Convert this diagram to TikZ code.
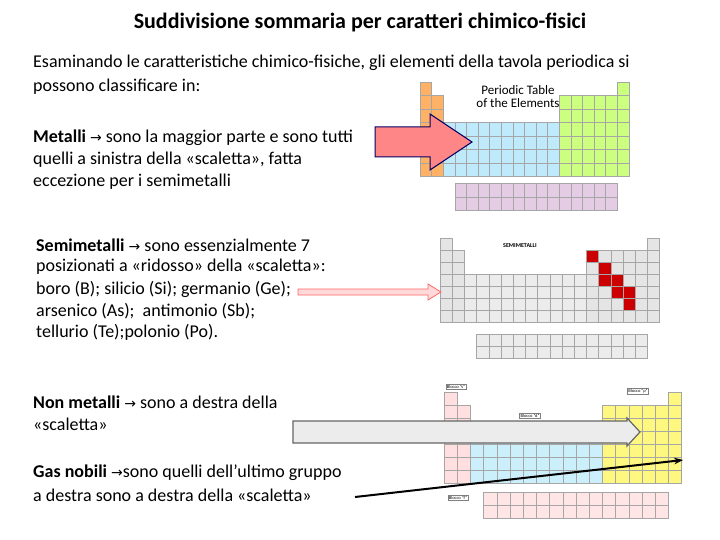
\documentclass[tikz,border=0pt]{standalone}
\usepackage{fontspec}
\setmainfont{Carlito}
\newfontfamily\arr{DejaVu Sans}
\usetikzlibrary{arrows.meta}
\newcommand\ptab[9]{%
\begin{scope}[shift={(#1,#2)}]
\foreach \r/\cols in {1/{1,18},2/{1,2,13,14,15,16,17,18},3/{1,2,13,14,15,16,17,18},4/{1,...,18},5/{1,...,18},6/{1,...,18},7/{1,...,18}}{
 \foreach \c in \cols {
  \ifnum\c<3 \def\cc{#5}\else\ifnum\c<13 \def\cc{#6}\else\def\cc{#7}\fi\fi
  \draw[fill=\cc,draw=gray!70,line width=0.3pt] ({(\c-1)*#3},{(\r-1)*#4}) rectangle ++(#3,#4);
 }}
\foreach \r in {7.5,8.5}{\foreach \c in {4,...,17}{
  \draw[fill=#8,draw=gray!70,line width=0.3pt] ({(\c-1)*#3},{\r*#4+#9}) rectangle ++(#3,#4);}}
\end{scope}}
\newcommand\ar{{\arr\fontsize{14}{16}\selectfont→}}
\tikzset{txt/.style={anchor=west,inner sep=0pt,font=\fontsize{18}{21}\selectfont},
 cellred/.style={fill=red!80!black,draw=gray!70,line width=0.3pt}}
\begin{document}
\begin{tikzpicture}[x=1pt,y=-1pt]
\useasboundingbox (0,0) rectangle (720,540);
\fill[white] (0,0) rectangle (720,540);
% tables
\ptab{420}{82}{11.6}{13.5}{orange!60}{cyan!25}{green!40!yellow!50}{violet!20}{0}
\node[font=\fontsize{13}{13}\selectfont\rmfamily,align=center,inner sep=0pt] (pt) at (518,97) {Periodic Table\\of the Elements};
\ptab{440}{238}{12.2}{12}{gray!20}{gray!15}{gray!20}{gray!15}{6}
\node[font=\bfseries\fontsize{6}{7}\selectfont,inner sep=0pt] (sm) at (520,246) {SEMIMETALLI};
\begin{scope}[shift={(440,238)}]
\foreach \c/\r in {13/2,14/3,14/4,15/4,15/5,16/5,16/6}{
 \draw[cellred] ({(\c-1)*12.2},{(\r-1)*12}) rectangle ++(12.2,12);}
\end{scope}
\ptab{444}{392}{13.2}{13}{pink!50}{cyan!20}{yellow!50}{pink!40}{3}
\foreach \n/\x/\y/\t in {bs/456/387/{Blocco "s"},bp/638/391/{Blocco "p"},bd/530/416/{Blocco "d"},bf/458/498/{Blocco "f"}}
 \node[draw=gray,fill=white,font=\fontsize{4.5}{5}\selectfont,inner sep=1pt] (\n) at (\x,\y) {\t};
% title and text
\node[font=\bfseries\fontsize{22}{24}\selectfont] (title) at (360,22) {Suddivisione sommaria per caratteri chimico-fisici};
\node[txt] (l1) at (33,63) {Esaminando le caratteristiche chimico-fisiche, gli elementi della tavola periodica si};
\node[txt] (l2) at (33,87) {possono classificare in:};
\node[txt] (l3) at (33,138) {\textbf{Metalli} \ar\ sono la maggior parte e sono tutti};
\node[txt] (l4) at (33,160) {quelli a sinistra della «scaletta», fatta};
\node[txt] (l5) at (33,182) {eccezione per i semimetalli};
\node[txt] (l6) at (36,245) {\textbf{Semimetalli} \ar\ sono essenzialmente 7};
\node[txt] (l7) at (36,267) {posizionati a «ridosso» della «scaletta»:};
\node[txt] (l8) at (36,289) {boro (B); silicio (Si); germanio (Ge);};
\node[txt] (l9) at (36,311) {arsenico (As);\ \ antimonio (Sb);};
\node[txt] (l10) at (36,332) {tellurio (Te);polonio (Po).};
\node[txt] (l11) at (33,402) {\textbf{Non metalli} \ar\ sono a destra della};
\node[txt] (l12) at (33,424) {«scaletta»};
\node[txt] (l13) at (33,473) {\textbf{Gas nobili} \ar sono quelli dell’ultimo gruppo};
\node[txt] (l14) at (33,495) {a destra sono a destra della «scaletta»};
% arrows
\draw[fill=red!30!pink,draw=black!60!blue,line width=1pt] (375,127) -- (430,127) -- (430,114) -- (472,142) -- (430,170) -- (430,157) -- (375,157) -- cycle;
\draw[draw=red!60,fill=pink!60,line width=0.8pt] (298,289) -- (428,289) -- (428,284) -- (441,292) -- (428,300) -- (428,295) -- (298,295) -- cycle;
\draw[draw=gray!80!black,fill=gray!15,line width=1.2pt] (293,421) -- (627,421) -- (627,418) -- (640,432) -- (627,446) -- (627,443) -- (293,443) -- cycle;
\coordinate (a4s) at (355,497); \coordinate (a4e) at (683,460);
\draw[line width=2pt,-{Stealth[length=9pt]}] (a4s) -- (a4e);
\end{tikzpicture}
\end{document}
